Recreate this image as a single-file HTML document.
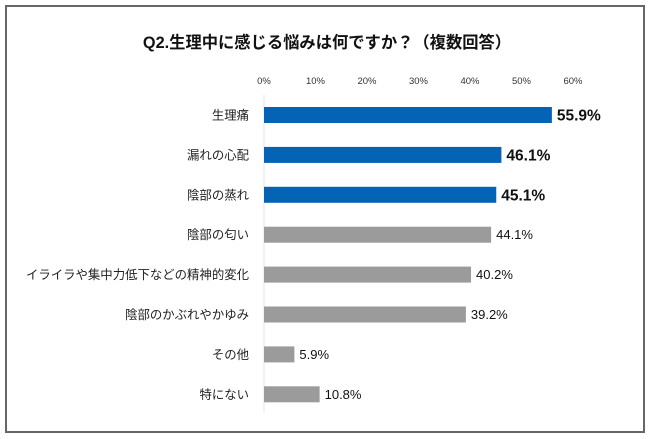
<!DOCTYPE html>
<html><head><meta charset="utf-8"><style>
body{margin:0;background:#fff;font-family:"Liberation Sans","Noto Sans CJK JP",sans-serif;}
#frame{position:absolute;left:5px;top:5px;width:636px;height:424px;border:2px solid #666;box-sizing:content-box;}
</style></head><body>
<div id="frame"></div>
<svg id="chart" width="650" height="439" style="position:absolute;left:0;top:0">
<text x="327" y="48" text-anchor="middle" font-size="16.3" font-weight="bold" fill="#111">Q2.生理中に感じる悩みは何ですか？（複数回答）</text>
</svg>
<script>
const categories=["生理痛","漏れの心配","陰部の蒸れ","陰部の匂い","イライラや集中力低下などの精神的変化","陰部のかぶれやかゆみ","その他","特にない"];
const values=[55.9,46.1,45.1,44.1,40.2,39.2,5.9,10.8];
const highlighted=[true,true,true,false,false,false,false,false];
const ticks=[0,10,20,30,40,50,60];
const svg=document.getElementById('chart');
const NS='http://www.w3.org/2000/svg';
const x0=264,pxPer=5.15,y0=115,step=39.9,bh=16;
const xs=v=>x0+v*pxPer;
const ys=i=>y0+i*step;
function mk(t,a){const e=document.createElementNS(NS,t);for(const k in a)e.setAttribute(k,a[k]);svg.appendChild(e);return e;}
ticks.forEach(t=>{const e=mk('text',{x:xs(t),y:84,'text-anchor':'middle','font-size':9.5,fill:'#333'});e.textContent=t+'%';

});
const ax=mk('line',{x1:x0,x2:x0,y1:95,y2:412,stroke:'#e4e4e4','stroke-width':1});


categories.forEach((c,i)=>{
const y=ys(i);
const l=mk('text',{x:249,y:y+4.5,'text-anchor':'end','font-size':12.4,fill:'#222'});l.textContent=c;


const r=mk('rect',{x:x0,y:y-bh/2,width:xs(values[i])-x0,height:bh,fill:highlighted[i]?'#0563b5':'#9b9b9b'});


const v=mk('text',{x:xs(values[i])+5,y:y+(highlighted[i]?5.5:4.5),'font-size':highlighted[i]?15.5:13,'font-weight':highlighted[i]?'bold':'normal',fill:'#111'});v.textContent=values[i].toFixed(1)+'%';


});
</script>
</body></html>
